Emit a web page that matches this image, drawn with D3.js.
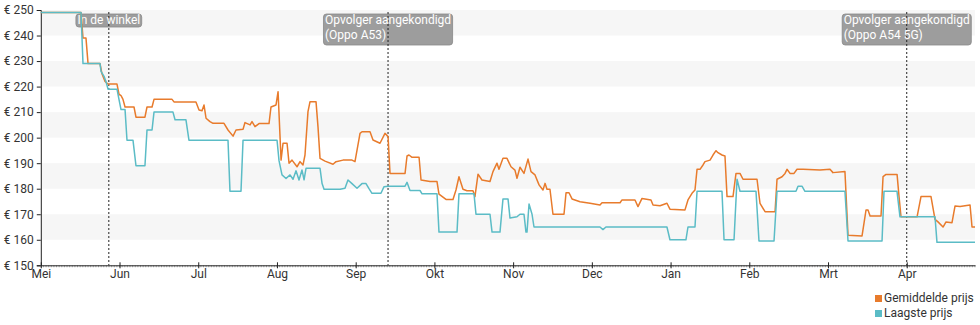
<!DOCTYPE html>
<html>
<head>
<meta charset="utf-8">
<script src="https://cdn.jsdelivr.net/npm/d3@7"></script>
<style>
  html, body { margin: 0; padding: 0; background: #fff; }
  svg { display: block; font-family: Roboto, "Noto Sans", sans-serif; }
</style>
</head>
<body>
<svg id="chart" width="980" height="325"></svg>
<script>
// ---- Data (time in months since 1 May 2020) ----
const monthLabels = ["Mei","Jun","Jul","Aug","Sep","Okt","Nov","Dec","Jan","Feb","Mrt","Apr"];
const yTickValues = [150,160,170,180,190,200,210,220,230,240,250];

const avgT = [0,0.511,0.536,0.574,0.600,0.752,0.777,0.816,0.854,0.968,0.993,1.019,1.044,1.070,1.184,1.209,1.323,1.349,1.413,1.438,1.667,1.692,1.971,2.010,2.048,2.073,2.099,2.149,2.188,2.327,2.378,2.442,2.480,2.569,2.594,2.658,2.683,2.721,2.772,2.899,2.924,2.988,3.014,3.052,3.077,3.128,3.153,3.191,3.255,3.293,3.331,3.356,3.394,3.420,3.496,3.521,3.547,3.610,3.712,3.750,3.839,3.953,3.991,4.055,4.080,4.182,4.220,4.309,4.372,4.411,4.436,4.627,4.652,4.677,4.716,4.805,4.830,4.944,5.033,5.058,5.147,5.236,5.274,5.312,5.363,5.414,5.490,5.515,5.554,5.604,5.706,5.744,5.795,5.820,5.871,5.922,5.973,6.023,6.049,6.087,6.138,6.189,6.227,6.278,6.329,6.379,6.405,6.430,6.468,6.506,6.646,6.672,6.710,6.748,6.850,6.977,7.103,7.129,7.358,7.383,7.548,7.586,7.637,7.751,7.777,7.866,7.954,7.992,8.183,8.221,8.272,8.310,8.336,8.374,8.412,8.437,8.501,8.539,8.577,8.602,8.653,8.691,8.717,8.793,8.831,8.882,8.920,9.098,9.136,9.200,9.327,9.352,9.416,9.454,9.479,9.517,9.568,9.606,9.682,9.898,10.025,10.063,10.215,10.254,10.432,10.483,10.508,10.534,10.673,10.699,10.737,10.877,10.902,10.927,11.131,11.181,11.308,11.359,11.397,11.461,11.499,11.575,11.613,11.677,11.804,11.829,11.867];
const avgV = [249,249,239,239,229,229,225,222,221,221,217,216.5,215,212,212,208,208,212,212,215,215,214,214,210.8,210.5,212.8,207.6,206.3,205.6,205.6,203,200.6,203,203.3,205.9,205,206.3,204.3,205.5,205.5,212,212.8,218,191.2,197.8,197.8,190,191.2,188.6,190.6,189.3,193.2,210.2,214.1,214.1,204.3,191.9,190.8,189.6,190.6,191.2,191.2,190.6,201.7,202.3,202.3,199.1,197.8,201.7,200.4,186,186,192.8,193.2,192.3,192.3,183.4,182.8,182.8,177.9,175.8,175.8,179.5,184.7,179.8,179.2,179.2,176.9,185.7,183.4,182.8,186.7,190,187.6,191.9,191.9,188.6,187.3,184.1,188.4,186,191.6,186.7,185.4,181.5,179.5,182.1,179.8,179.8,170,170,178.4,178.4,176,174.9,174.3,173.6,174.5,174.5,175.6,175.6,173,176.2,175.6,173.6,173.3,174.3,172,171.7,175.6,178.2,179.5,187.6,187.6,189.3,190.6,191.2,193.2,194.9,194.1,193.2,192.8,176.9,176.9,186,186,183.7,183.7,174.3,171,171,183.7,184.7,186,187.6,186,186,187.6,187.6,187.3,187.6,186.3,186.7,161.8,161.5,171.7,171.7,169.3,169.3,184.7,185.6,185.6,176.9,169,169,176.9,176.9,168,167,165,167,166.7,173.2,173,173.6,165,165];

const lowT = [0,0.511,0.536,0.752,0.765,0.803,0.828,0.854,0.968,0.993,1.019,1.070,1.095,1.171,1.209,1.323,1.349,1.413,1.438,1.679,1.705,1.844,1.882,2.378,2.403,2.543,2.569,3.001,3.026,3.064,3.115,3.166,3.204,3.242,3.280,3.318,3.344,3.369,3.547,3.573,3.598,3.802,3.864,3.902,3.953,4.017,4.080,4.131,4.169,4.207,4.321,4.360,4.411,4.627,4.652,4.690,4.817,4.843,5.033,5.058,5.287,5.312,5.503,5.528,5.706,5.732,5.833,5.871,5.935,5.960,6.049,6.087,6.138,6.163,6.176,6.202,6.240,6.265,7.103,7.141,7.179,7.954,7.992,8.195,8.221,8.310,8.336,8.653,8.679,8.806,8.844,8.882,9.085,9.123,9.314,9.352,9.593,9.619,9.669,9.707,10.215,10.254,10.686,10.711,10.876,10.914,11.359,11.384,11.867];
const lowV = [249,249,229,229,226,224,222,219,219,215,211,211,199,199,189,189,203,203,210,210,207,207,199,199,179,179,199,199,191,185.4,184,185.4,183.7,187,183.4,187.3,183.5,188,188,182,179.8,179.8,180.2,183.4,182,180.2,182,182,180,178.2,178.2,180.8,181,181,182.5,179.3,179.3,178,178,163,163,178,178,170,170,163,163,176,176,168.5,169,170,170,163,163,174,170,165,165,164,165,165,160,160,165,165,179,179,160,160,183.7,179,179,159.5,159.5,179,179,181,181,179,179,159.5,159.5,179,179,169,169,159,159];

const eventT = [0.864, 4.411, 11.0];
const eventLabels = [["In de winkel"], ["Opvolger aangekondigd", "(Oppo A53)"], ["Opvolger aangekondigd", "(Oppo A54 5G)"]];

const seriesNames = ["Gemiddelde prijs", "Laagste prijs"];
const seriesColors = ["#e87b2c", "#5bbcc6"];

// ---- Layout ----
const svg = d3.select("#chart");
const pLeft = 40.8, pRight = 975, pTop = 10, pBottom = 265.3;
const x = d3.scaleLinear().domain([0, 11.867]).range([pLeft, pRight]);
const y = d3.scaleLinear().domain([150, 250]).range([pBottom, pTop]);

// background bands
const bandStarts = d3.range(150, 250, 10).filter(v => ((v - 150) / 10) % 2 === 1);
svg.append("g").selectAll("rect").data(bandStarts).join("rect")
  .attr("x", pLeft).attr("width", pRight - pLeft)
  .attr("y", d => y(d + 10)).attr("height", d => y(d) - y(d + 10))
  .attr("fill", "#f6f6f6");

// y axis
const yAxis = svg.append("g").attr("transform", `translate(${pLeft},0)`)
  .call(d3.axisLeft(y).tickValues(yTickValues).tickSize(4).tickPadding(3).tickFormat(d => "€ " + d));
yAxis.select(".domain").attr("stroke", "#222");
yAxis.selectAll(".tick line").attr("stroke", "#222");
yAxis.selectAll("text").attr("fill", "#333").style("font-size", "12px").style("font-family", "Roboto");

// x axis minor ticks (daily)
const minor = d3.range(0, 11.867, 1 / 30);
svg.append("g").selectAll("line").data(minor).join("line")
  .attr("x1", d => x(d)).attr("x2", d => x(d))
  .attr("y1", pBottom).attr("y2", pBottom + 2)
  .attr("stroke", "#777").attr("stroke-width", 0.6);

// x axis
const xAxis = svg.append("g").attr("transform", `translate(0,${pBottom})`)
  .call(d3.axisBottom(x).tickValues(d3.range(0, 12)).tickSizeInner(3).tickSizeOuter(0).tickPadding(1)
    .tickFormat(i => monthLabels[i]));
xAxis.select(".domain").attr("stroke", "#222");
xAxis.selectAll(".tick line").attr("stroke", "#222").attr("y1", -3);
xAxis.selectAll("text").attr("fill", "#333").style("font-size", "12px").style("font-family", "Roboto");

// event boxes + dotted lines
const ev = svg.append("g");
eventT.forEach((t, i) => {
  const cx = x(t);
  const g = ev.append("g");
  const rect = g.append("rect").attr("rx", 3).attr("ry", 3)
    .attr("fill", "#9d9d9d").attr("stroke", "#888").attr("stroke-width", 0.8);
  g.append("line").attr("x1", cx).attr("x2", cx).attr("y1", pTop + 2).attr("y2", pBottom)
    .attr("stroke", "#222").attr("stroke-width", 1).attr("stroke-dasharray", "2,2");
  const txt = g.append("text").attr("fill", "#fff").style("font-size", "12px").style("font-family", "Roboto");
  const lines = eventLabels[i];
  lines.forEach((l, j) => txt.append("tspan").attr("x", 0).attr("y", 24 + j * 14.5).text(l));
  const w = txt.node().getBBox().width + 3;
  const bx = cx - w / 2;
  txt.selectAll("tspan").attr("x", bx + 1.5);
  rect.attr("x", bx).attr("y", 14).attr("width", w).attr("height", 13 + (lines.length - 1) * 18);
});

// lines
const line = d3.line().x(d => x(d[0])).y(d => y(d[1]));
const avgData = avgT.map((t, i) => [t, avgV[i]]);
const lowData = lowT.map((t, i) => [t, lowV[i]]);
svg.append("path").datum(avgData).attr("d", line).attr("fill", "none")
  .attr("stroke", seriesColors[0]).attr("stroke-width", 1.5).attr("stroke-linejoin", "round");
svg.append("path").datum(lowData).attr("d", line).attr("fill", "none")
  .attr("stroke", seriesColors[1]).attr("stroke-width", 1.5).attr("stroke-linejoin", "round");

// legend
const lg = svg.append("g");
seriesNames.forEach((n, i) => {
  lg.append("rect").attr("x", 875).attr("y", 295 + i * 15).attr("width", 7).attr("height", 7).attr("fill", seriesColors[i]);
  lg.append("text").attr("x", 884).attr("y", 302 + i * 15).attr("fill", "#333")
    .style("font-size", "12px").style("font-family", "Roboto").text(n);
});
</script>
</body>
</html>
